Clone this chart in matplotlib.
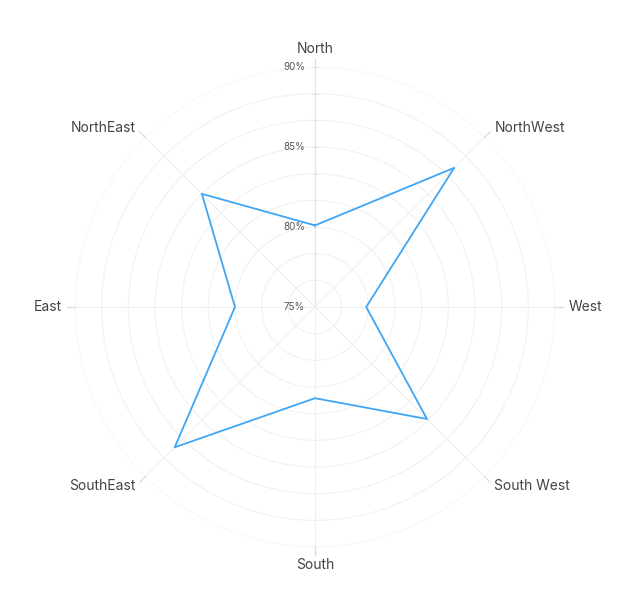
import numpy as np
import matplotlib
matplotlib.use('Agg')
import matplotlib.pyplot as plt
from matplotlib.transforms import offset_copy

plt.rcParams['font.family'] = ['Inter', 'DejaVu Sans']

directions = ['North', 'NorthWest', 'West', 'South West', 'South', 'SouthEast', 'East', 'NorthEast']
values = [80.1, 87.3, 78.2, 84.9, 80.7, 87.4, 80.0, 85.0]
tick_values = [75, 80, 85, 90]

rmin, rmax = 75, 90
grid_step = 5 / 3

fig = plt.figure(figsize=(6.33, 6.14), dpi=100)
# center at (315, 307) px, radius 240 px
ax = fig.add_axes([75 / 633, 67 / 614, 480 / 633, 480 / 614], projection='polar')
ax.set_theta_zero_location('N')
ax.set_theta_direction(-1)
ax.set_ylim(rmin, rmax)
ax.set_xticks([])
ax.set_yticks([])
ax.grid(False)
ax.spines['polar'].set_visible(False)

angles = np.arange(len(directions)) * 2 * np.pi / len(directions)

# circular grid
t = np.linspace(0, 2 * np.pi, 400)
for k in range(1, 10):
    r = rmin + k * grid_step
    ax.plot(t, np.full_like(t, r), color='#f1f1f4', lw=0.8, zorder=1)

# spokes with small tick beyond outer ring
for i, a in enumerate(angles):
    c = '#e2e2e8' if i == 0 else '#f0f0f3'
    ax.plot([a, a], [rmin, rmax], color=c, lw=0.8, zorder=1)
    ax.plot([a, a], [rmax, rmax + 0.5], color='#d8d8dd', lw=0.8, zorder=1, clip_on=False)

# small tick marks on the North axis
for k in range(1, 10):
    r = rmin + k * grid_step
    ax.plot([-0.012, 0.012], [r, r], color='#e2e2e8', lw=0.8, zorder=1)

# radial labels
trans = offset_copy(ax.transData, fig=fig, x=-10, y=0, units='dots')
for v in tick_values:
    ax.text(0, v, f'{v}%', transform=trans, ha='right', va='center',
            fontsize=7, color='#555555', zorder=3)

# category labels
label_r = rmax + 0.7
for a, name in zip(angles, directions):
    s, c = np.sin(a), np.cos(a)
    if abs(s) < 0.1:
        ha = 'center'
    elif s > 0:
        ha = 'left'
    else:
        ha = 'right'
    if abs(s) > 0.1:
        va = 'center'
    elif c > 0:
        va = 'bottom'
    else:
        va = 'top'
    ax.text(a, label_r if abs(s) < 0.1 else rmax + 0.85, name, ha=ha, va=va,
            fontsize=10, color='#444444')

closed_a = np.append(angles, angles[0])
closed_v = np.append(values, values[0])
ax.plot(closed_a, closed_v, color='#3ea6f5', lw=1.3, zorder=4, clip_on=False)

fig.savefig('out.png', dpi=100)
